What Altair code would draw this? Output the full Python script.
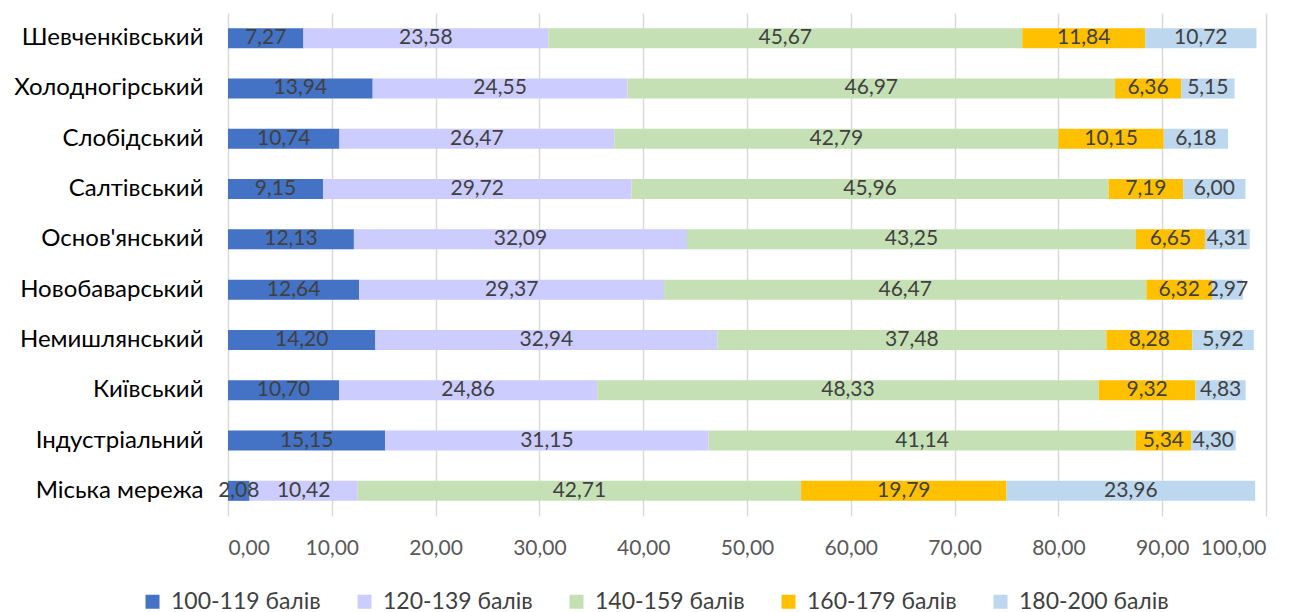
import altair as alt
import pandas as pd

districts = ["Шевченківський", "Холодногірський", "Слобідський", "Салтівський",
             "Основ'янський", "Новобаварський", "Немишлянський", "Київський",
             "Індустріальний", "Міська мережа"]
series = ["100-119 балів", "120-139 балів", "140-159 балів", "160-179 балів", "180-200 балів"]
colors = ["#4472C4", "#CCCCFF", "#C5E0B4", "#FFC000", "#BDD7EE"]

s100 = [7.27, 13.94, 10.74, 9.15, 12.13, 12.64, 14.20, 10.70, 15.15, 2.08]
s120 = [23.58, 24.55, 26.47, 29.72, 32.09, 29.37, 32.94, 24.86, 31.15, 10.42]
s140 = [45.67, 46.97, 42.79, 45.96, 43.25, 46.47, 37.48, 48.33, 41.14, 42.71]
s160 = [11.84, 6.36, 10.15, 7.19, 6.65, 6.32, 8.28, 9.32, 5.34, 19.79]
s180 = [10.72, 5.15, 6.18, 6.00, 4.31, 2.97, 5.92, 4.83, 4.30, 23.96]

ticks = [0, 10, 20, 30, 40, 50, 60, 70, 80, 90, 100]

rows = []
for si, (name, vals) in enumerate(zip(series, [s100, s120, s140, s160, s180])):
    for d, v in zip(districts, vals):
        rows.append({"district": d, "series": name, "order": si, "value": v})
df = pd.DataFrame(rows)

FONT = "Lato"

base = alt.Chart(df).transform_stack(
    stack="value", groupby=["district"], sort=[alt.SortField("order")], as_=["x0", "x1"]
).transform_calculate(
    mid="(datum.x0 + datum.x1) / 2",
    lbl="replace(format(datum.value, '.2f'), '.', ',')"
)

y_enc = alt.Y("district:N", sort=districts, title=None,
              scale=alt.Scale(paddingInner=0.6, paddingOuter=0.3),
              axis=alt.Axis(ticks=False, domain=False, labelFontSize=24, labelColor="#000000",
                            labelFont=FONT, labelPadding=25, labelLimit=400, grid=False))

bars = base.mark_bar(size=20).encode(
    x=alt.X("x0:Q", title=None,
            scale=alt.Scale(domain=[0, 100], nice=False),
            axis=alt.Axis(values=ticks, ticks=False, domain=False, labelFontSize=21,
                          labelColor="#595959", labelFont=FONT, labelPadding=21,
                          labelExpr="replace(format(datum.value, '.2f'), '.', ',')",
                          grid=True, gridColor="#D9D9D9", gridWidth=1.5)),
    x2="x1:Q",
    y=y_enc,
    color=alt.Color("series:N", sort=series,
                    scale=alt.Scale(domain=series, range=colors),
                    legend=alt.Legend(title=None, orient="none", direction="horizontal",
                                      legendX=-87, legendY=577, padding=0,
                                      labelFontSize=23, labelFont=FONT, labelColor="#404040",
                                      symbolType="square", symbolSize=196, symbolStrokeWidth=0,
                                      labelOffset=7, columnPadding=32, labelLimit=400)),
)

labels = base.mark_text(fontSize=21, font=FONT, color="#404040", align="center", baseline="middle").encode(
    x="mid:Q",
    y=alt.Y("district:N", sort=districts),
    text="lbl:N",
)

chart = alt.layer(bars, labels).properties(
    width=1038, height=503,
    autosize=alt.AutoSizeParams(type="none"),
    padding={"left": 220, "top": 5, "right": 20, "bottom": 100},
).configure_view(stroke=None)

chart.save("out.html", embed_options={"renderer": "svg", "actions": False})
